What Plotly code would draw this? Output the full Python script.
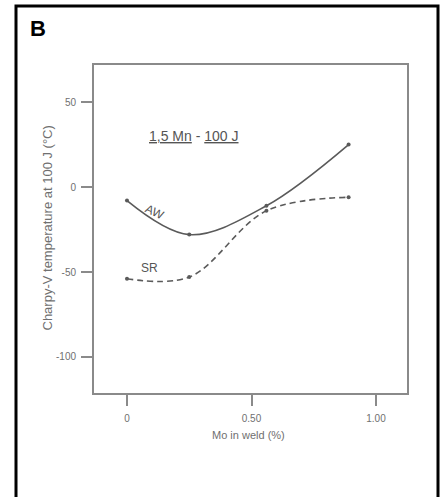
import plotly.graph_objects as go

mo_pct = [0, 0.25, 0.56, 0.89]
aw_temp = [-8, -28, -11, 25]
sr_temp = [-54, -53, -14, -6]
x_tickvals = [0, 0.5, 1.0]
x_ticktext = ["0", "0.50", "1.00"]
y_tickvals = [-100, -50, 0, 50]
y_ticktext = ["-100", "-50", "0", "50"]

W, H = 442, 497
L, R, T, B = 94, 35, 65, 104
pw, ph = W - L - R, H - T - B

def px_to_paper(x, y):
    return (x - L) / pw, (H - B - y) / ph

line_col = "#5a5a5a"
text_col = "#707070"
font = "Liberation Sans, Arial, sans-serif"

fig = go.Figure()
fig.add_trace(go.Scatter(x=mo_pct, y=aw_temp, mode="lines+markers",
                         line=dict(color=line_col, width=1.6, shape="spline", smoothing=1.0),
                         marker=dict(size=4, color=line_col), showlegend=False))
fig.add_trace(go.Scatter(x=mo_pct, y=sr_temp, mode="lines+markers",
                         line=dict(color=line_col, width=1.6, shape="spline", smoothing=1.0, dash="6px,4px"),
                         marker=dict(size=4, color=line_col), showlegend=False))

fig.update_layout(
    width=W, height=H, margin=dict(l=L, r=R, t=T, b=B),
    paper_bgcolor="white", plot_bgcolor="white",
    font=dict(family=font, color=text_col, size=10),
    xaxis=dict(range=[-0.1325, 1.1245], tickvals=x_tickvals, ticktext=x_ticktext,
               showgrid=False, zeroline=False, showline=True, mirror=True,
               linecolor="#8a8a8a", linewidth=2, ticks="outside", ticklen=11,
               tickcolor="#8a8a8a", tickwidth=1.5, ticklabelstandoff=4,
               tickfont=dict(size=10, color=text_col)),
    yaxis=dict(range=[-121.2, 71.8], tickvals=y_tickvals, ticktext=y_ticktext,
               showgrid=False, zeroline=False, showline=True, mirror=True,
               linecolor="#8a8a8a", linewidth=2, ticks="outside", ticklen=11,
               tickcolor="#8a8a8a", tickwidth=1.5, ticklabelstandoff=3,
               tickfont=dict(size=10, color=text_col)),
)

# outer frame
x0, y0 = px_to_paper(16, 6)
x1, y1 = px_to_paper(438, 505)
fig.add_shape(type="rect", xref="paper", yref="paper", x0=x0, x1=x1, y0=y1, y1=y0,
              line=dict(color="black", width=3), layer="above")

ann = []
bx, by = px_to_paper(28, 29)
ann.append(dict(text="<b>B</b>", x=bx, y=by, xref="paper", yref="paper",
                xanchor="left", yanchor="middle", showarrow=False,
                font=dict(size=22, color="black", family="Liberation Sans, Arial")))
tx, ty = px_to_paper(37, 228)
ann.append(dict(text="Charpy-V temperature at 100 J (°C)", x=tx, y=ty, xref="paper", yref="paper",
                textangle=-90, showarrow=False, font=dict(size=13, color=text_col)))
xx, xy = px_to_paper(248, 443)
ann.append(dict(text="Mo in weld (%)", x=xx, y=xy, xref="paper", yref="paper",
                showarrow=False, font=dict(size=11, color=text_col)))
ann.append(dict(text="<u>1,5 Mn</u> - <u>100 J</u>", x=0.269, y=30, xref="x", yref="y",
                showarrow=False, font=dict(size=14, color="#555555")))
ann.append(dict(text="AW", x=0.112, y=-14.7, xref="x", yref="y", textangle=25,
                showarrow=False, font=dict(size=12, color="#555555")))
ann.append(dict(text="SR", x=0.092, y=-47.6, xref="x", yref="y",
                showarrow=False, font=dict(size=12, color="#555555")))
fig.update_layout(annotations=ann)

fig.write_html("out.html")
